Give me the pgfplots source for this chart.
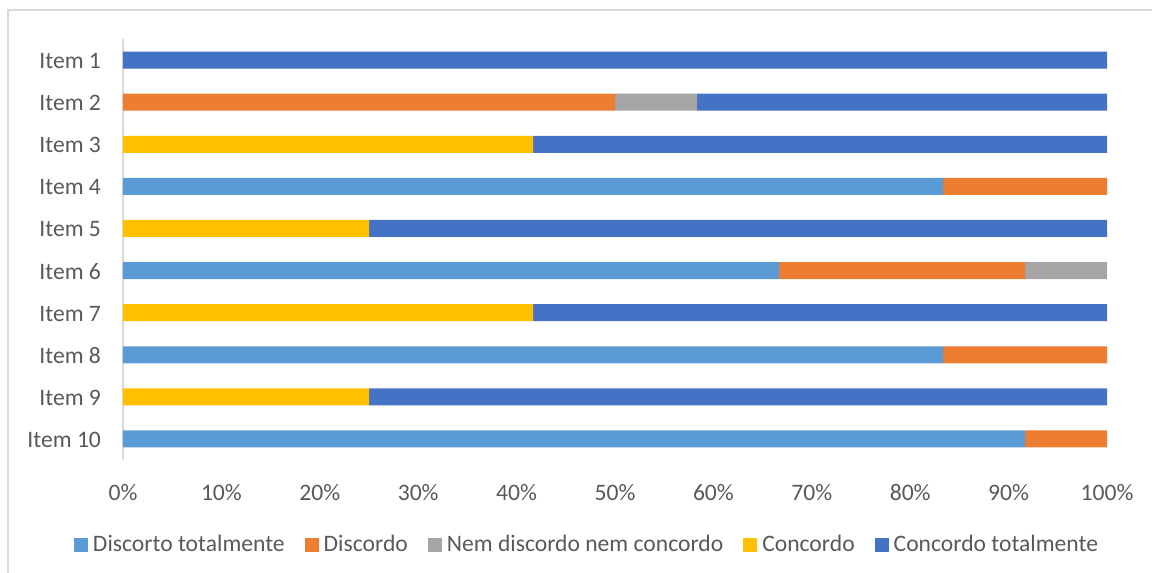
\documentclass[border=0pt]{standalone}
\usepackage{fontspec}
\setmainfont{Carlito}
\usepackage{pgfplots}
\usepackage{pgfplotstable}
\pgfplotsset{compat=1.18}
\definecolor{cDT}{HTML}{5B9BD5}
\definecolor{cD}{HTML}{ED7D31}
\definecolor{cN}{HTML}{A5A5A5}
\definecolor{cC}{HTML}{FFC000}
\definecolor{cCT}{HTML}{4472C4}
\definecolor{txt}{HTML}{595959}
\definecolor{grid}{HTML}{D9D9D9}
\pgfplotstableread{
item DT D N C CT
1 0 0 0 0 100
2 0 50 8.333 0 41.667
3 0 0 0 41.667 58.333
4 83.333 16.667 0 0 0
5 0 0 0 25 75
6 66.667 25 8.333 0 0
7 0 0 0 41.667 58.333
8 83.333 16.667 0 0 0
9 0 0 0 25 75
10 91.667 8.333 0 0 0
}\data
\begin{document}
\begin{tikzpicture}
\useasboundingbox (0,0) rectangle (576pt,286.5pt);
\draw[grid, line width=0.8pt] (4pt,-20pt) rectangle (600pt,281.5pt);
\begin{axis}[
  at={(61.5pt,56.5pt)}, anchor=south west,
  scale only axis, width=492pt, height=210.5pt,
  xbar stacked, bar width=8.5pt,
  xmin=0, xmax=100, ymin=0.5, ymax=10.5, y dir=reverse,
  ytick={1,...,10},
  yticklabels={Item 1,Item 2,Item 3,Item 4,Item 5,Item 6,Item 7,Item 8,Item 9,Item 10},
  xtick={0,10,...,100},
  xticklabel={\pgfmathprintnumber{\tick}\%},
  /pgf/number format/assume math mode=true,
  axis lines*=left,
  x axis line style={draw=none},
  y axis line style={draw=grid, line width=1pt},
  major tick length=0pt,
  tick label style={font=\fontsize{11.8}{14}\selectfont, text=txt},
  yticklabel style={xshift=-7.5pt, yshift=-0.5pt},
  xticklabel style={yshift=-8.5pt},
  legend columns=5,
  legend style={draw=none, fill=none, at={(0.4726,-0.2019)}, anchor=center,
    font=\fontsize{11.8}{14}\selectfont, text=txt,
    /tikz/every even column/.append style={column sep=8pt},
    /tikz/every odd column/.append style={column sep=0.5pt}},
  legend image code/.code={\fill[#1] (0pt,-3.5pt) rectangle (7pt,3.5pt);},
  every axis plot/.append style={draw=none},
]
\addplot[fill=cDT] table[x=DT,y=item]{\data};
\addplot[fill=cD] table[x=D,y=item]{\data};
\addplot[fill=cN] table[x=N,y=item]{\data};
\addplot[fill=cC] table[x=C,y=item]{\data};
\addplot[fill=cCT] table[x=CT,y=item]{\data};
\legend{Discorto totalmente,Discordo,Nem discordo nem concordo,Concordo,Concordo totalmente}
\end{axis}
\end{tikzpicture}
\end{document}
